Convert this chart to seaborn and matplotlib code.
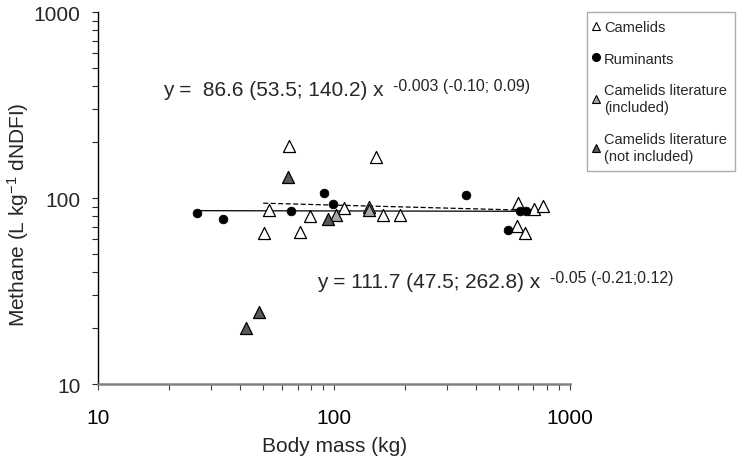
import matplotlib
matplotlib.use('Agg')
import matplotlib.pyplot as plt
import seaborn as sns
from matplotlib.lines import Line2D
from matplotlib.ticker import FuncFormatter, LogLocator, NullFormatter

# Dados: massa corporal (kg) e metano (L/kg dNDFI)
camelid_mass = [50.2, 52.9, 64.3, 71.4, 79.2, 110.4, 140.5, 150.9, 160.6, 190.7,
                595, 602, 647, 706, 767]
camelid_ch4 = [65, 86.5, 191, 65.4, 80, 88, 89.1, 165.5, 81, 81,
               70.4, 94, 64.9, 86.9, 90.9]

ruminant_mass = [26.3, 33.7, 65.4, 90.8, 98.9, 361, 548, 614, 651]
ruminant_ch4 = [82.7, 77.1, 84.8, 106.8, 92.9, 103.4, 67, 85.5, 85.5]

lit_incl_mass = [101.5, 140.5]
lit_incl_ch4 = [81, 86.5]

lit_excl_mass = [42.1, 48.1, 63.5, 94.4]
lit_excl_ch4 = [19.9, 24.5, 130.2, 77.1]

# Retas de regressao (extremos)
fit_all_x = [26.3, 767]
fit_all_y = [85.5, 84.8]
fit_cam_x = [50, 767]
fit_cam_y = [93.8, 85.5]

eq1_main = 'y =  86.6 (53.5; 140.2) x'
eq1_sup = '-0.003 (-0.10; 0.09)'
eq2_main = 'y = 111.7 (47.5; 262.8) x'
eq2_sup = '-0.05 (-0.21;0.12)'

legend_labels = ['Camelids', 'Ruminants', 'Camelids literature\n(included)',
                 'Camelids literature\n(not included)']

sns.set_style('ticks')
plt.rcParams['font.family'] = ['Liberation Sans', 'DejaVu Sans']
plt.rcParams['mathtext.default'] = 'regular'

fig = plt.figure(figsize=(7.42, 4.6), dpi=100)
ax = fig.add_axes([0.1327, 0.163, 0.768 - 0.1327, 0.9717 - 0.163])

# Linhas de ajuste
sns.lineplot(x=fit_all_x, y=fit_all_y, color='black', linewidth=0.9, ax=ax, zorder=1)
sns.lineplot(x=fit_cam_x, y=fit_cam_y, color='black', linewidth=0.9,
             linestyle=(0, (4, 2)), ax=ax, zorder=1)

# Pontos
sns.scatterplot(x=camelid_mass, y=camelid_ch4, marker='^', color='white',
                edgecolor='black', linewidth=0.9, s=75, ax=ax, zorder=3)
sns.scatterplot(x=ruminant_mass, y=ruminant_ch4, marker='o', color='black',
                edgecolor='black', linewidth=0.5, s=40, ax=ax, zorder=3)
sns.scatterplot(x=lit_incl_mass, y=lit_incl_ch4, marker='^', color='#a6a6a6',
                edgecolor='black', linewidth=0.9, s=75, ax=ax, zorder=3)
sns.scatterplot(x=lit_excl_mass, y=lit_excl_ch4, marker='^', color='#595959',
                edgecolor='black', linewidth=0.9, s=75, ax=ax, zorder=3)

ax.set_xscale('log')
ax.set_yscale('log')
ax.set_xlim(10, 1000)
ax.set_ylim(10, 1000)

fmt = FuncFormatter(lambda v, p: '%d' % v)
for axis in (ax.xaxis, ax.yaxis):
    axis.set_major_locator(LogLocator(base=10))
    axis.set_minor_locator(LogLocator(base=10, subs=range(2, 10)))
    axis.set_major_formatter(fmt)
    axis.set_minor_formatter(NullFormatter())

ax.tick_params(axis='both', which='both', direction='out', labelsize=15)
ax.tick_params(axis='both', which='major', length=4, width=0.8)
ax.tick_params(axis='both', which='minor', length=4, width=0.8)
ax.tick_params(axis='x', which='major', pad=13)
ax.tick_params(axis='y', which='major', pad=9)
ax.tick_params(axis='x', which='both', colors='#444444', labelcolor='black')

for side in ['top', 'right']:
    ax.spines[side].set_visible(False)
ax.spines['left'].set_color('black')
ax.spines['left'].set_linewidth(1.0)
ax.spines['bottom'].set_color('#808080')
ax.spines['bottom'].set_linewidth(1.8)

ax.set_xlabel('Body mass (kg)', fontsize=15)
ax.set_ylabel('Methane (L kg$^{-1}$ dNDFI)', fontsize=15)
ax.xaxis.set_label_coords(0.5, -0.14)
ax.yaxis.set_label_coords(-0.143, 0.457)

# Equacoes
t1 = fig.text(163 / 742, 1 - 91 / 460, eq1_main, fontsize=15, ha='left', va='center')
ax.annotate(eq1_sup, xy=(1, 0.72), xycoords=t1, xytext=(7, 0),
            textcoords='offset points', fontsize=11.5, ha='left', va='center')
t2 = fig.text(317 / 742, 1 - 283 / 460, eq2_main, fontsize=15, ha='left', va='center')
ax.annotate(eq2_sup, xy=(1, 0.72), xycoords=t2, xytext=(7, 0),
            textcoords='offset points', fontsize=11.5, ha='left', va='center')

# Legenda
handles = [
    Line2D([], [], linestyle='none', marker='^', markersize=6, markerfacecolor='white',
           markeredgecolor='black', markeredgewidth=0.8),
    Line2D([], [], linestyle='none', marker='o', markersize=5.5, markerfacecolor='black',
           markeredgecolor='black'),
    Line2D([], [], linestyle='none', marker='^', markersize=6, markerfacecolor='#a6a6a6',
           markeredgecolor='black', markeredgewidth=0.8),
    Line2D([], [], linestyle='none', marker='^', markersize=6, markerfacecolor='#595959',
           markeredgecolor='black', markeredgewidth=0.8),
]
leg = fig.legend(handles, legend_labels, loc='upper left',
                 bbox_to_anchor=(587 / 742, 1 - 13 / 460), fontsize=10.5,
                 frameon=True, fancybox=False, handlelength=0.1, handletextpad=0.5,
                 labelspacing=1.2, borderpad=0.55, borderaxespad=0)
for txt in leg.get_texts():
    txt.set_linespacing(1.3)
leg.get_frame().set_edgecolor('#999999')
leg.get_frame().set_linewidth(1.0)

plt.savefig('out.png', dpi=100)
